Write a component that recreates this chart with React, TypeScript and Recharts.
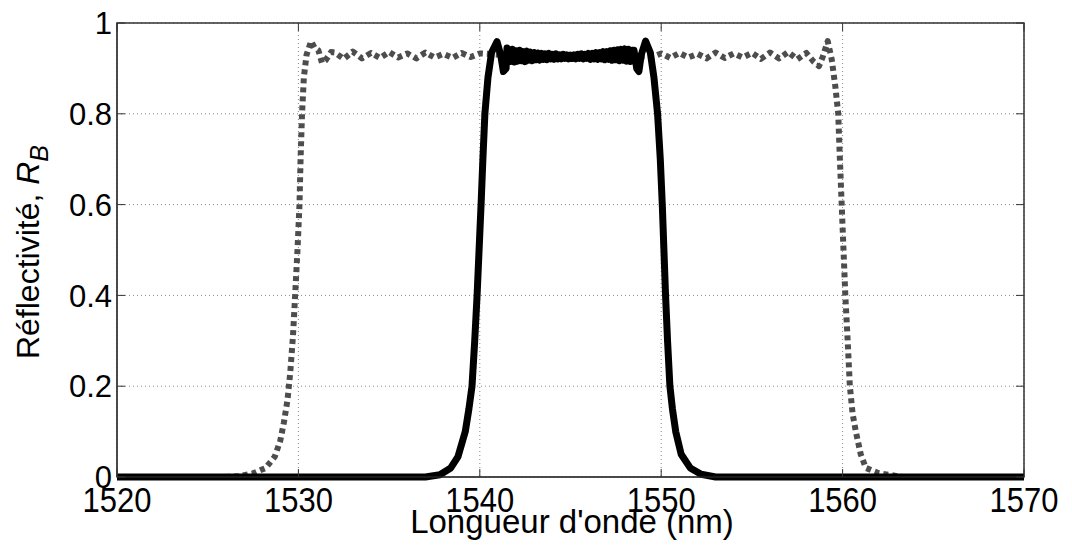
import { LineChart, Line, XAxis, YAxis, CartesianGrid, ReferenceArea } from "recharts";

// wavelength (nm) / reflectivity pairs
const broadGrating = [
  [1520, 0], [1526, 0], [1526.8, 0.002], [1527.5, 0.008], [1528.2, 0.02], [1528.7, 0.045],
  [1529.0, 0.08], [1529.2, 0.12], [1529.4, 0.17], [1529.55, 0.23], [1529.7, 0.31],
  [1529.82, 0.4], [1529.95, 0.5], [1530.06, 0.6], [1530.12, 0.7], [1530.2, 0.8],
  [1530.3, 0.88], [1530.45, 0.93], [1530.7, 0.96], [1530.9, 0.945], [1531.1, 0.94],
  [1531.3, 0.912], [1531.5, 0.918], [1531.8, 0.936], [1532.0, 0.935], [1532.5, 0.921],
  [1533.0, 0.937], [1533.5, 0.922], [1534.0, 0.934], [1534.5, 0.923], [1535.0, 0.936],
  [1535.5, 0.924], [1536.0, 0.933], [1536.5, 0.922], [1537.0, 0.935], [1537.5, 0.924],
  [1538.0, 0.932], [1538.5, 0.923], [1539.0, 0.934], [1539.5, 0.925], [1540.0, 0.933],
  [1542.0, 0.928], [1544.0, 0.93], [1546.0, 0.928], [1548.0, 0.93], [1549.5, 0.925],
  [1550.0, 0.933], [1550.5, 0.923], [1551.0, 0.934], [1551.5, 0.924], [1552.0, 0.932],
  [1552.5, 0.922], [1553.0, 0.935], [1553.5, 0.923], [1554.0, 0.933], [1554.5, 0.924],
  [1555.0, 0.934], [1555.5, 0.921], [1556.0, 0.935], [1556.5, 0.922], [1557.0, 0.936],
  [1557.5, 0.92], [1558.0, 0.934], [1558.4, 0.915], [1558.7, 0.905], [1558.9, 0.925],
  [1559.18, 0.96], [1559.4, 0.92], [1559.6, 0.86], [1559.76, 0.8], [1559.85, 0.7],
  [1559.95, 0.6], [1560.05, 0.5], [1560.15, 0.4], [1560.28, 0.3], [1560.4, 0.2],
  [1560.55, 0.14], [1560.73, 0.1], [1561.0, 0.05], [1561.28, 0.02], [1562.0, 0.008],
  [1562.7, 0.004], [1563.3, 0], [1570, 0],
];

const narrowGrating = [
  [1520, 0], [1537, 0], [1537.8, 0.005], [1538.4, 0.02], [1538.8, 0.045], [1539.2, 0.1],
  [1539.4, 0.15], [1539.57, 0.2], [1539.72, 0.3], [1539.85, 0.4], [1539.96, 0.5],
  [1540.07, 0.6], [1540.17, 0.7], [1540.28, 0.8], [1540.45, 0.88], [1540.65, 0.935],
  [1540.95, 0.959], [1541.15, 0.93], [1541.3, 0.893], [1541.45, 0.9], [1541.5, 0.945],
  [1541.6, 0.94], [1541.7, 0.915], [1541.8, 0.942], [1541.9, 0.914], [1542.0, 0.939],
  [1542.1, 0.916], [1542.2, 0.94], [1542.3, 0.917], [1542.4, 0.937], [1542.5, 0.915],
  [1542.6, 0.938], [1542.7, 0.918], [1542.8, 0.936], [1542.9, 0.917], [1543.0, 0.935],
  [1543.1, 0.919], [1543.2, 0.934], [1543.3, 0.918], [1543.4, 0.933], [1543.5, 0.92],
  [1543.6, 0.932], [1543.7, 0.919], [1543.8, 0.933], [1543.9, 0.921], [1544.0, 0.931],
  [1544.1, 0.92], [1544.2, 0.932], [1544.3, 0.921], [1544.4, 0.93], [1544.5, 0.921],
  [1544.6, 0.931], [1544.7, 0.922], [1544.8, 0.93], [1544.9, 0.921], [1545.0, 0.929],
  [1545.1, 0.922], [1545.2, 0.93], [1545.3, 0.921], [1545.4, 0.931], [1545.5, 0.922],
  [1545.6, 0.932], [1545.7, 0.921], [1545.8, 0.931], [1545.9, 0.922], [1546.0, 0.933],
  [1546.1, 0.92], [1546.2, 0.933], [1546.3, 0.921], [1546.4, 0.935], [1546.5, 0.92],
  [1546.6, 0.935], [1546.7, 0.921], [1546.8, 0.937], [1546.9, 0.919], [1547.0, 0.937],
  [1547.1, 0.92], [1547.2, 0.939], [1547.3, 0.918], [1547.4, 0.94], [1547.5, 0.919],
  [1547.6, 0.941], [1547.7, 0.917], [1547.8, 0.942], [1547.9, 0.918], [1548.0, 0.943],
  [1548.1, 0.916], [1548.2, 0.942], [1548.3, 0.915], [1548.4, 0.94], [1548.5, 0.94],
  [1548.65, 0.9], [1548.77, 0.893], [1548.9, 0.93], [1549.14, 0.96], [1549.4, 0.935],
  [1549.6, 0.88], [1549.8, 0.8], [1549.95, 0.7], [1550.06, 0.6], [1550.15, 0.5],
  [1550.24, 0.4], [1550.35, 0.3], [1550.48, 0.2], [1550.62, 0.15], [1550.8, 0.1],
  [1551.1, 0.05], [1551.6, 0.02], [1552.2, 0.006], [1553, 0], [1570, 0],
];

const xTicks = [1520, 1530, 1540, 1550, 1560, 1570];
const yTicks = [0, 0.2, 0.4, 0.6, 0.8, 1];

const toRows = (pts: number[][]) => pts.map(([wl, r]) => ({ wl, r }));

const FONT = "'Liberation Sans', Arial, sans-serif";
// plot box inside the svg (from the margins / axis sizes below)
const BOX = { left: 109, top: 15, right: 1016, bottom: 469 };
const TICK_LEN = 8;

// x tick: label slightly stretched vertically like the original, plus inward ticks top & bottom
const XTick = (props: any) => {
  const { x, y, payload } = props;
  return (
    <g>
      <line x1={x} x2={x} y1={BOX.bottom} y2={BOX.bottom - TICK_LEN} stroke="#333" />
      <line x1={x} x2={x} y1={BOX.top} y2={BOX.top + TICK_LEN} stroke="#333" />
      <text
        transform={`translate(${x},${y}) scale(1,1.15)`}
        textAnchor="middle"
        dy="0.72em"
        fontSize={31}
        fontFamily={FONT}
        fill="#000"
      >
        {payload.value}
      </text>
    </g>
  );
};

const YTick = (props: any) => {
  const { x, y, payload } = props;
  return (
    <g>
      <line x1={BOX.left} x2={BOX.left + TICK_LEN} y1={y} y2={y} stroke="#333" />
      <line x1={BOX.right} x2={BOX.right - TICK_LEN} y1={y} y2={y} stroke="#333" />
      <text x={x} y={y} textAnchor="end" dy="0.36em" fontSize={31} fontFamily={FONT} fill="#000">
        {payload.value}
      </text>
    </g>
  );
};

export default function App() {
  return (
    <div style={{ width: 1064, height: 546, background: "#fff" }}>
      <LineChart
        width={1064}
        height={546}
        margin={{ top: 15, right: 48, bottom: 27, left: 9 }}
      >
        <CartesianGrid stroke="#888" strokeDasharray="1 3" />
        <XAxis
          type="number"
          dataKey="wl"
          domain={[1520, 1570]}
          ticks={xTicks}
          allowDuplicatedCategory={false}
          height={50}
          tickLine={false}
          tickSize={0}
          tickMargin={9}
          axisLine={{ stroke: "#333" }}
          tick={<XTick />}
          label={{
            content: () => (
              <text x={564} y={525} textAnchor="middle" fontSize={33} fontFamily={FONT} fill="#000">
                Longueur d'onde (nm)
              </text>
            ),
          }}
        />
        <YAxis
          type="number"
          domain={[0, 1]}
          ticks={yTicks}
          width={100}
          tickLine={false}
          tickSize={0}
          tickMargin={5}
          axisLine={{ stroke: "#333" }}
          tick={<YTick />}
          label={{
            content: () => (
              <text
                transform="translate(31,244) rotate(-90)"
                textAnchor="middle"
                fontSize={32}
                fontFamily={FONT}
                fill="#000"
              >
                Réflectivité,{" "}
                <tspan fontStyle="italic">R</tspan>
                <tspan fontStyle="italic" fontSize={25} dy={9}>B</tspan>
              </text>
            ),
          }}
        />
        <ReferenceArea x1={1520} x2={1570} y1={0} y2={1} fill="none" stroke="#333" strokeWidth={1.5} />
        <Line
          data={toRows(broadGrating)}
          dataKey="r"
          type="linear"
          stroke="#4d4d4d"
          strokeWidth={6}
          strokeDasharray="5 4"
          strokeLinejoin="round"
          dot={false}
          isAnimationActive={false}
        />
        <Line
          data={toRows(narrowGrating)}
          dataKey="r"
          type="linear"
          stroke="#000"
          strokeWidth={7}
          strokeLinejoin="round"
          dot={false}
          isAnimationActive={false}
        />
      </LineChart>
    </div>
  );
}
